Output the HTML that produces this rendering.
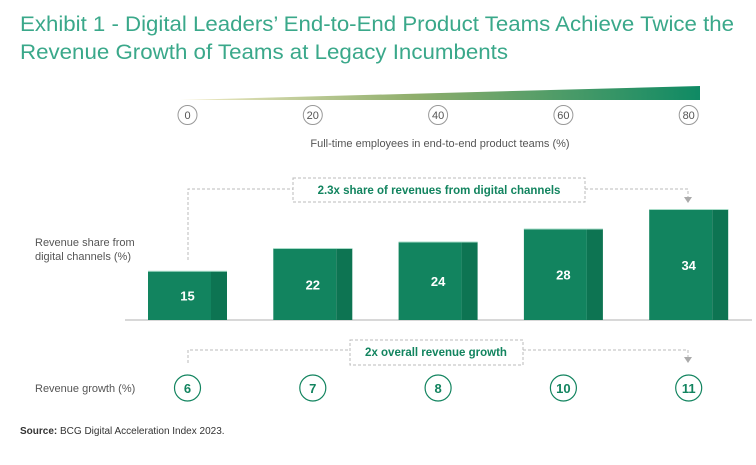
<!DOCTYPE html>
<html><head><meta charset="utf-8"><style>
body{margin:0;background:#fff;}
svg{display:block;font-family:"Liberation Sans",sans-serif;}
</style></head><body>
<svg width="756" height="465" viewBox="0 0 756 465">
<defs><linearGradient id="wg" x1="0" x2="1" y1="0" y2="0">
<stop offset="0" stop-color="#f3ecc8"/><stop offset="0.45" stop-color="#8fae6c"/><stop offset="1" stop-color="#0f8a64"/></linearGradient></defs>
<g fill="#3aa88a" font-size="21">
<text x="20" y="31" textLength="714" lengthAdjust="spacingAndGlyphs">Exhibit 1 - Digital Leaders’ End-to-End Product Teams Achieve Twice the</text>
<text x="20" y="59" textLength="488" lengthAdjust="spacingAndGlyphs">Revenue Growth of Teams at Legacy Incumbents</text>
</g>
<polygon points="180,100 700,86 700,100" fill="url(#wg)"/>
<g id="topAxis"></g>
<text x="440" y="147" text-anchor="middle" font-size="11" fill="#555">Full-time employees in end-to-end product teams (%)</text>
<line x1="125" y1="320" x2="752" y2="320" stroke="#ccc" stroke-width="1.5"/>
<g stroke="#bbb" stroke-dasharray="3,2" fill="none">
<polyline points="188,260 188,189 293,189"/><polyline points="585,189 688,189 688,197"/>
<rect x="293" y="178" width="292" height="24"/>
<polyline points="188,363 188,350 350,350"/><polyline points="523,350 688,350 688,357"/>
<rect x="350" y="340" width="173" height="25"/>
</g>
<polygon points="684,197 692,197 688,203" fill="#aaa"/>
<polygon points="684,357 692,357 688,363" fill="#aaa"/>
<text x="439" y="194" text-anchor="middle" font-size="11.5" font-weight="bold" fill="#12845f">2.3x share of revenues from digital channels</text>
<text x="436" y="356" text-anchor="middle" font-size="11.5" font-weight="bold" fill="#12845f">2x overall revenue growth</text>
<g font-size="11" fill="#555"><text x="35" y="246">Revenue share from</text><text x="35" y="260">digital channels (%)</text></g>
<text x="35" y="392" font-size="11" fill="#555">Revenue growth (%)</text>
<g id="bars"></g>
<g id="growth"></g>
<text x="20" y="434" font-size="10" fill="#333"><tspan font-weight="bold">Source:</tspan> BCG Digital Acceleration Index 2023.</text>
</svg>
<script>
const xTicks=["0","20","40","60","80"];
const shares=[15,22,24,28,34];
const growth=[6,7,8,10,11];
const NS="http://www.w3.org/2000/svg";
function xPos(i){return 187.5+i*125.3;}
function yPos(v){return 320-v*3.25;}
function mk(t,a,p){const e=document.createElementNS(NS,t);for(const k in a)e.setAttribute(k,a[k]);p.appendChild(e);return e;}
const ta=document.getElementById('topAxis');
xTicks.forEach((t,i)=>{
 const c=mk('circle',{cx:xPos(i),cy:115,r:9.5,fill:'#fff',stroke:'#999','stroke-width':1},ta);
 
 
 const tx=mk('text',{x:xPos(i),y:119,'text-anchor':'middle','font-size':11,fill:'#555'},ta);
 tx.textContent=t;
 
 
});
const bg=document.getElementById('bars');
shares.forEach((v,i)=>{
 const x0=xPos(i)-39.5,y=yPos(v),h=320-y;
 const g=mk('g',{},bg);
 
 
 mk('rect',{x:x0,y:y,width:63,height:h,fill:'#12845f'},g);
 mk('rect',{x:x0+63,y:y,width:16,height:h,fill:'#0d7452'},g);
 mk('line',{x1:x0,y1:y,x2:x0+79,y2:y,stroke:'#a8dcc8','stroke-width':1},g);
 const t=mk('text',{x:xPos(i),y:y+h/2+5,'text-anchor':'middle','font-size':13,'font-weight':'bold',fill:'#fff'},g);
 t.textContent=v;
 
 
});
const gg=document.getElementById('growth');
growth.forEach((v,i)=>{
 const c=mk('circle',{cx:xPos(i),cy:388,r:13,fill:'#fff',stroke:'#12845f','stroke-width':1.2},gg);
 
 
 const t=mk('text',{x:xPos(i),y:393,'text-anchor':'middle','font-size':13,'font-weight':'bold',fill:'#12845f'},gg);
 t.textContent=v;
 
 
});
</script>
</body></html>
